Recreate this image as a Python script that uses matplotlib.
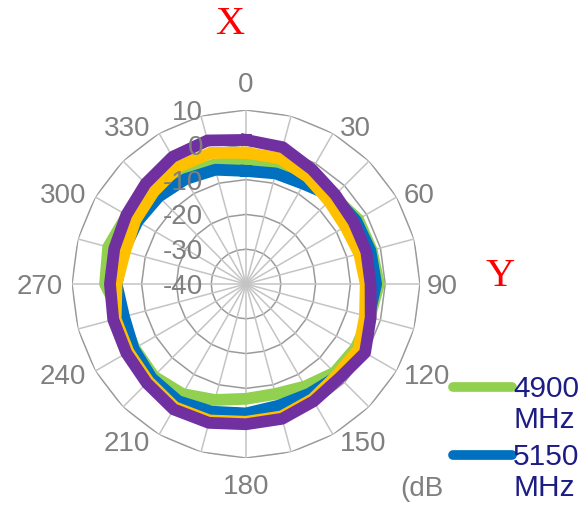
import numpy as np
import matplotlib.pyplot as plt
from matplotlib.lines import Line2D

plt.rcParams["font.family"] = ["Liberation Sans", "DejaVu Sans"]

# 24 个方向（每 15 度），0 在正上方，顺时针
angles_deg = list(range(0, 360, 15))
angle_labels = [str(a) for a in range(0, 360, 30)]
ring_values = [-40, -30, -20, -10, 0, 10]

# 各频点方向图 (dB)
gain_4900 = [-4.8, -4.8, -5, -4.5, -2.8, -2.6, -1.8, -3.2, -3.5, -4, -6, -7.3,
             -7, -5.5, -3.5, -2.5, -3, -3, 0.5, 1, -0.5, -2, -3.5, -4.5]
gain_5150 = [-7.5, -7.1, -6.8, -4.5, -3.5, -3, -2.6, -3.5, -2.5, -2.6, -3.6, -3.8,
             -2.8, -2, -1.1, -1.7, -2.7, -3.7, -2.8, -3.5, -4, -4.5, -5.2, -6]
gain_yellow = [-2.3, -2.6, -4.5, -6.3, -7, -6.3, -5.6, -4.6, -2.6, -3, -1.8, -0.6,
               -0.4, 0.6, 0.9, -0.4, -1, -1.2, -2.8, -4, -3.3, -2.5, -1.1, -1]
gain_purple = [1.4, 0.7, -2, -3.7, -4.3, -4.2, -4.2, -2.9, -0.5, -1.9, -1.1, 0.1,
               0.3, 1.3, 1.6, 0.3, -0.3, -0.5, -0.9, -0.8, -0.3, 0.8, 2.2, 2.7]

series = [
    (gain_4900, "#92D050"),
    (gain_5150, "#0070C0"),
    (gain_yellow, "#FFC000"),
    (gain_purple, "#7030A0"),
]


def closed(vals):
    return list(vals) + [vals[0]]


theta = np.deg2rad(closed(angles_deg))

W, H = 582, 506
fig = plt.figure(figsize=(W / 100, H / 100), dpi=100)
ax = fig.add_axes([0.1237, 0.0929, 0.598, 0.6877], projection="polar")
ax.set_theta_zero_location("N")
ax.set_theta_direction(-1)
ax.set_ylim(-40, 10)
ax.grid(False)
ax.spines["polar"].set_visible(False)
ax.set_xticks([])
ax.set_yticks([])

# 多边形网格
for rv in ring_values[1:]:
    ax.plot(theta, [rv] * len(theta), color="#9a9a9a", lw=1.1, zorder=1)
for a in angles_deg:
    ax.plot([np.deg2rad(a)] * 2, [-40, 10], color="#c4c4c4", lw=1.1, zorder=1)

for vals, color in series:
    ax.plot(theta, closed(vals), color=color, lw=8.5, solid_joinstyle="round",
            zorder=2)

label_color = "#7f7f7f"
px = 0.72  # 像素 -> 点
for lab in angle_labels:
    a = int(lab)
    t = np.deg2rad(a)
    if a == 0:
        off, ha = (0, 26), "center"
    elif a == 180:
        off, ha = (0, -28), "center"
    else:
        side = 1 if a < 180 else -1
        dx = 7 if side > 0 else 9
        off, ha = (side * dx, 8 * np.cos(t) - 1.5), ("left" if side > 0 else "right")
    ax.annotate(lab, xy=(t, 10), xytext=(off[0] * px, off[1] * px),
                textcoords="offset points", ha=ha, va="center", fontsize=20,
                color=label_color, annotation_clip=False)
for rv in ring_values:
    ax.annotate(str(rv), xy=(0, rv), xytext=(-43 * px, -2 * px),
                textcoords="offset points", ha="right", va="center",
                fontsize=20, color=label_color, zorder=5)

# 图例（只露出前两项）
legend_color = "#1c1c85"
for y_line, color, name in [(388, "#92D050", "4900"), (456, "#0070C0", "5150")]:
    fig.add_artist(Line2D([453 / W, 512 / W], [1 - y_line / H] * 2,
                          transform=fig.transFigure, color=color, lw=7,
                          solid_capstyle="round"))
    fig.text(513 / W, 1 - (y_line + 1) / H, name, ha="left", va="center",
             fontsize=21.5, color=legend_color)
    fig.text(513 / W, 1 - (y_line + 32) / H, "MHz", ha="left", va="center",
             fontsize=21.5, color=legend_color)

fig.text(400 / W, 1 - 489 / H, "(dB", ha="left", va="center", fontsize=20,
         color=label_color)

fig.text(230 / W, 1 - 25 / H, "X", ha="center", va="center", fontsize=29,
         color="red", family="Liberation Serif")
fig.text(500 / W, 1 - 277 / H, "Y", ha="center", va="center", fontsize=29,
         color="red", family="Liberation Serif")

fig.savefig("out.png", dpi=100)
